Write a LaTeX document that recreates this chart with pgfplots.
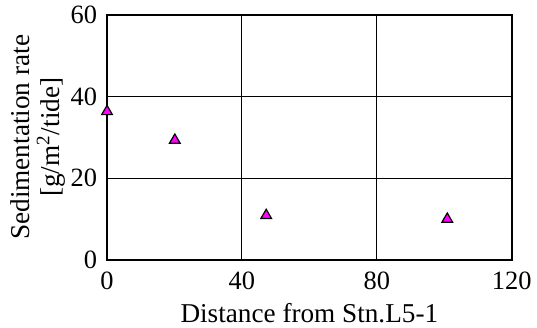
\documentclass[border=0pt]{standalone}
\usepackage{fontspec}
\setmainfont{Liberation Serif}
\usepackage{pgfplots}
\pgfplotsset{compat=1.18}
\definecolor{mag}{RGB}{255,0,255}
\begin{document}
\begin{tikzpicture}
\useasboundingbox (-53.5pt,-33.5pt) rectangle (214.9pt,130pt);
\begin{axis}[
  at={(0pt,0pt)}, anchor=south west,
  scale only axis, width=202.25pt, height=122.75pt,
  xmin=0, xmax=120, ymin=0, ymax=60,
  xtick={0,40,80,120}, ytick={0,20,40,60},
  grid=major, major grid style={black, line width=0.5pt},
  axis line style={black, line width=1pt},
  tick style={draw=none},
  /pgf/number format/assume math mode=true,
  ticklabel style={font=\fontsize{13.2}{14}\selectfont},
  xticklabel style={yshift=-2.5pt},
  yticklabel style={xshift=-1.5pt},
  label style={font=\fontsize{13.6}{15}\selectfont},
  xlabel={Distance from Stn.L5-1},
  ylabel={Sedimentation rate\\{}[g/m\textsuperscript{2}/tide]},
  ylabel style={align=center},
  xlabel style={yshift=0pt},
  ylabel style={yshift=-4.5pt},
  clip=false,
]
\addplot[only marks, mark=triangle*, mark size=3.1pt,
  mark options={fill=mag, draw=black, line width=0.6pt}]
  coordinates {(0,36.3) (20.1,29.3) (47.2,10.9) (100.9,10.0)};
\end{axis}
\end{tikzpicture}
\end{document}
